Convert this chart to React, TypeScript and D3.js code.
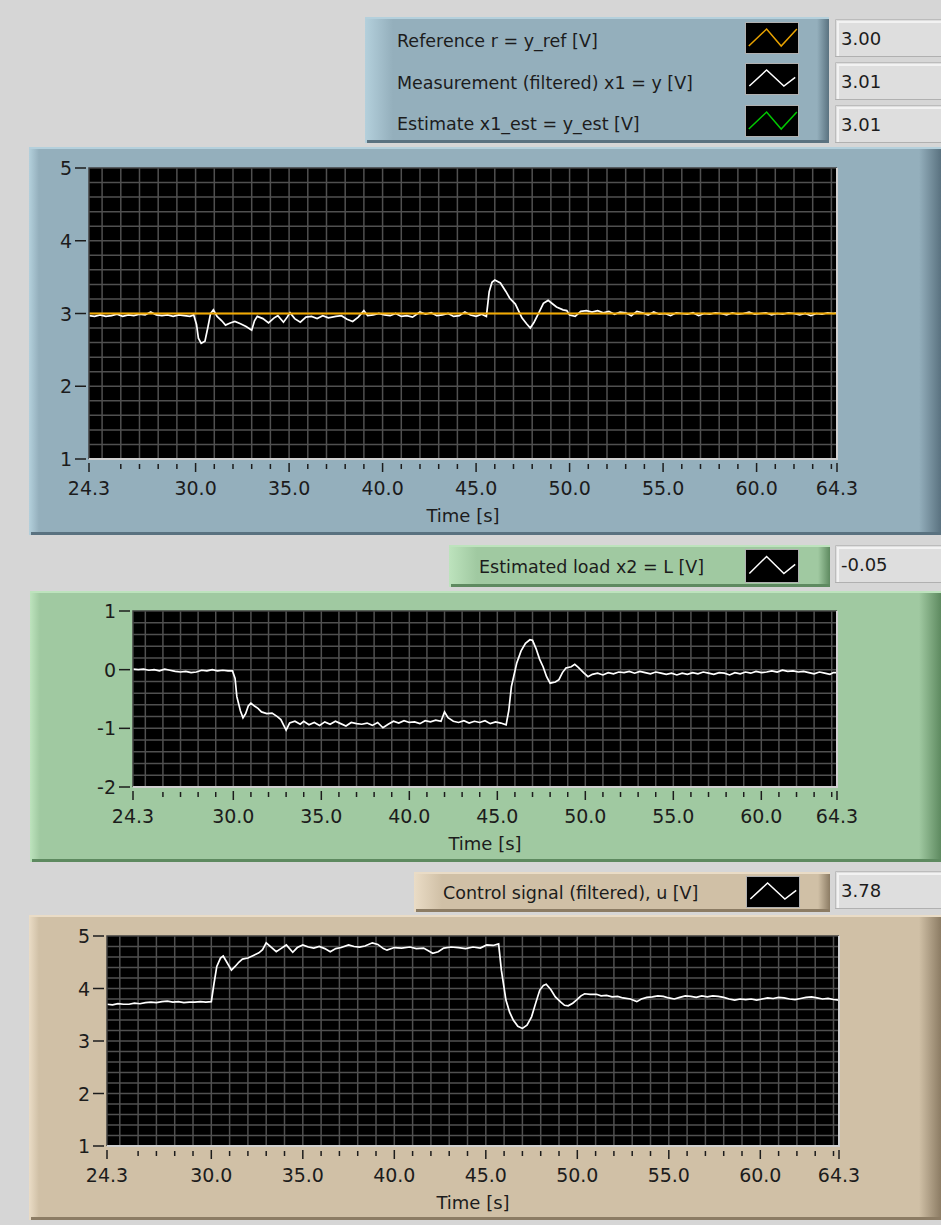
import * as d3 from "d3";

// time axis, seconds
const timeMajor = [24.3, 30, 35, 40, 45, 50, 55, 60, 64.3];
const timeMajorLabels = ["24.3", "30.0", "35.0", "40.0", "45.0", "50.0", "55.0", "60.0", "64.3"];

// plot 1: reference and measurement [V]
const refT = [24.3, 64.3];
const refV = [3.0, 3.0];

const measT = [
  24.3, 24.6, 24.9, 25.2, 25.5, 25.8, 26.1, 26.4, 26.7, 27.0, 27.3, 27.6, 27.9, 28.2, 28.5, 28.8, 29.1, 29.4, 29.7, 29.9,
  30.05, 30.15, 30.3, 30.5, 30.65, 30.8, 30.95, 31.15, 31.4, 31.6, 31.85, 32.1, 32.4, 32.7, 33.0, 33.15, 33.3, 33.6, 33.9,
  34.2, 34.4, 34.7, 34.9, 35.05, 35.3, 35.6, 35.9, 36.2, 36.5, 36.8, 37.1, 37.5, 37.8, 38.1, 38.4, 38.7, 39.0, 39.2, 39.5,
  39.8, 40.1, 40.4, 40.7, 41.0, 41.3, 41.6, 42.0, 42.3, 42.6, 42.9, 43.2, 43.5, 43.8, 44.1, 44.4, 44.7, 45.0, 45.3, 45.55,
  45.7, 45.85, 46.0, 46.3, 46.6, 46.8, 47.1, 47.45, 47.7, 47.9, 48.1, 48.3, 48.6, 48.85, 49.1, 49.3, 49.65, 49.85, 50.0,
  50.3, 50.6, 50.9, 51.2, 51.5, 51.8, 52.1, 52.4, 52.7, 53.0, 53.3, 53.6, 53.9, 54.2, 54.5, 54.8, 55.1, 55.4, 55.7, 56.0,
  56.3, 56.6, 56.9, 57.2, 57.5, 57.8, 58.1, 58.4, 58.7, 59.0, 59.3, 59.6, 59.9, 60.2, 60.5, 60.8, 61.1, 61.4, 61.7, 62.0,
  62.3, 62.6, 62.9, 63.2, 63.5, 63.8, 64.1, 64.3,
];
const measV = [
  2.97, 2.96, 2.98, 2.96, 2.97, 2.99, 2.96, 2.98, 2.97, 2.99, 2.98, 3.02, 2.98, 2.97, 2.98, 2.96, 2.98, 2.97, 2.96, 2.98,
  2.85, 2.66, 2.59, 2.62, 2.8, 3.0, 3.05, 2.96, 2.9, 2.84, 2.87, 2.89, 2.86, 2.82, 2.77, 2.9, 2.96, 2.93, 2.87,
  2.94, 2.97, 2.88, 2.95, 3.01, 2.93, 2.88, 2.95, 2.96, 2.93, 2.97, 2.94, 2.96, 2.97, 2.92, 2.89, 2.95, 3.04, 2.97, 2.98,
  3.0, 2.98, 2.97, 3.0, 2.96, 2.97, 2.95, 3.02, 2.99, 3.01, 2.97, 2.98, 3.0, 2.96, 2.97, 3.02, 2.98, 2.96, 2.99, 2.96,
  3.3, 3.43, 3.46, 3.42, 3.3, 3.21, 3.13, 2.94, 2.86, 2.8, 2.88, 2.98, 3.14, 3.18, 3.13, 3.09, 3.05, 3.04, 2.98,
  2.96, 3.03, 3.04, 3.02, 3.04, 3.01, 3.03, 2.99, 3.02, 3.01, 2.97, 3.03, 3.01, 2.98, 3.02, 2.99, 3.0, 2.97, 3.01, 3.0,
  2.99, 3.01, 2.97, 3.0, 2.99, 3.01, 3.0, 2.98, 3.01, 2.99, 3.0, 3.02, 2.99, 3.0, 3.01, 2.98, 3.0, 2.99, 3.01, 3.0,
  2.98, 3.0, 2.97, 3.0, 2.99, 3.01, 3.0, 3.01,
];

// plot 2: estimated load [V]
const loadT = [
  24.3, 24.6, 24.9, 25.2, 25.5, 25.8, 26.1, 26.4, 26.7, 27.0, 27.3, 27.6, 27.9, 28.2, 28.5, 28.8, 29.1, 29.4, 29.7, 29.95,
  30.1, 30.2, 30.4, 30.55, 30.7, 30.85, 31.0, 31.2, 31.4, 31.6, 31.9, 32.2, 32.5, 32.7, 33.0, 33.2, 33.5, 33.8, 34.0,
  34.3, 34.6, 34.9, 35.2, 35.5, 35.8, 36.1, 36.4, 36.7, 37.0, 37.3, 37.6, 37.9, 38.2, 38.5, 38.8, 39.1, 39.4, 39.7, 40.0,
  40.3, 40.6, 40.9, 41.2, 41.5, 41.8, 42.0, 42.2, 42.5, 42.8, 43.1, 43.4, 43.7, 44.0, 44.3, 44.6, 44.9, 45.2, 45.5,
  45.65, 45.8, 46.1, 46.35, 46.6, 46.85, 47.0, 47.2, 47.4, 47.6, 47.8, 48.0, 48.3, 48.5, 48.7, 48.9, 49.2, 49.4, 49.6,
  49.9, 50.15, 50.4, 50.7, 51.0, 51.3, 51.6, 51.9, 52.2, 52.5, 52.8, 53.1, 53.4, 53.7, 54.0, 54.3, 54.6, 54.9, 55.2,
  55.5, 55.8, 56.1, 56.4, 56.7, 57.0, 57.3, 57.6, 57.9, 58.2, 58.5, 58.8, 59.1, 59.4, 59.7, 60.0, 60.3, 60.6, 60.9,
  61.2, 61.5, 61.8, 62.1, 62.4, 62.7, 63.0, 63.3, 63.6, 63.9, 64.1, 64.3,
];
const loadV = [
  0.01, 0.0, 0.01, -0.01, 0.0, -0.02, 0.01, -0.01, -0.03, -0.04, -0.03, -0.05, -0.04, -0.01, -0.02, 0.0, -0.02, -0.01, -0.02, -0.02,
  -0.15, -0.46, -0.7, -0.82, -0.75, -0.62, -0.57, -0.62, -0.66, -0.72, -0.75, -0.74, -0.8, -0.85, -1.03, -0.91, -0.88, -0.93, -0.88,
  -0.94, -0.9, -0.95, -0.89, -0.93, -0.88, -0.92, -0.96, -0.9, -0.92, -0.93, -0.91, -0.95, -0.9, -0.99, -0.93, -0.88, -0.91, -0.87, -0.9,
  -0.89, -0.92, -0.87, -0.89, -0.86, -0.88, -0.72, -0.82, -0.88, -0.9, -0.87, -0.91, -0.88, -0.9, -0.87, -0.92, -0.89, -0.91, -0.94,
  -0.7, -0.29, 0.11, 0.32, 0.45, 0.51, 0.5, 0.36, 0.18, 0.05, -0.12, -0.23, -0.21, -0.17, -0.05, 0.03, 0.05, 0.09, 0.04,
  -0.05, -0.12, -0.08, -0.06, -0.09, -0.05, -0.07, -0.04, -0.05, -0.03, -0.06, -0.03, -0.05, -0.07, -0.04, -0.06, -0.08, -0.06, -0.09,
  -0.06, -0.08, -0.05, -0.07, -0.04, -0.06, -0.08, -0.05, -0.06, -0.09, -0.05, -0.07, -0.04, -0.06, -0.03, -0.05, -0.04, -0.02, -0.04,
  -0.01, -0.03, -0.02, -0.04, -0.03, -0.05, -0.07, -0.04, -0.06, -0.08, -0.05, -0.05,
];

// plot 3: control signal u [V]
const uT = [
  24.3, 24.6, 24.9, 25.2, 25.5, 25.8, 26.1, 26.4, 26.7, 27.0, 27.3, 27.6, 27.9, 28.2, 28.5, 28.8, 29.1, 29.4, 29.7, 30.0,
  30.15, 30.3, 30.5, 30.65, 30.85, 31.1, 31.3, 31.5, 31.7, 32.0, 32.3, 32.6, 32.8, 33.0, 33.3, 33.55, 33.8, 34.1, 34.45,
  34.7, 35.0, 35.3, 35.6, 35.9, 36.2, 36.5, 36.8, 37.1, 37.5, 37.8, 38.1, 38.4, 38.8, 39.1, 39.4, 39.6, 40.0, 40.4, 40.85,
  41.2, 41.6, 42.1, 42.4, 42.7, 43.1, 43.5, 43.9, 44.3, 44.7, 45.05, 45.4, 45.7, 45.85, 46.1, 46.3, 46.5, 46.75, 47.0,
  47.25, 47.5, 47.75, 47.95, 48.15, 48.3, 48.55, 48.8, 49.1, 49.3, 49.5, 49.75, 49.95, 50.2, 50.4, 50.7, 51.05, 51.3,
  51.6, 51.9, 52.2, 52.5, 52.9, 53.25, 53.5, 53.8, 54.1, 54.4, 54.7, 55.0, 55.3, 55.6, 55.9, 56.2, 56.5, 56.8, 57.1,
  57.4, 57.7, 58.0, 58.3, 58.6, 58.9, 59.2, 59.5, 59.8, 60.1, 60.4, 60.7, 61.0, 61.3, 61.6, 61.9, 62.2, 62.5, 62.8,
  63.1, 63.4, 63.7, 64.0, 64.3,
];
const uV = [
  3.7, 3.69, 3.71, 3.7, 3.7, 3.72, 3.71, 3.73, 3.74, 3.73, 3.75, 3.76, 3.74, 3.75, 3.73, 3.74, 3.74, 3.75, 3.74, 3.75,
  4.1, 4.42, 4.58, 4.62, 4.5, 4.35, 4.42, 4.5, 4.56, 4.58, 4.63, 4.68, 4.74, 4.87, 4.78, 4.7, 4.76, 4.83, 4.69,
  4.78, 4.83, 4.79, 4.77, 4.8, 4.76, 4.7, 4.76, 4.78, 4.83, 4.8, 4.79, 4.81, 4.87, 4.84, 4.76, 4.73, 4.78, 4.77, 4.79,
  4.76, 4.77, 4.67, 4.7, 4.77, 4.79, 4.78, 4.76, 4.79, 4.77, 4.83, 4.82, 4.85, 4.35, 3.78, 3.55, 3.4, 3.28, 3.24,
  3.3, 3.46, 3.75, 3.97, 4.06, 4.08, 3.98, 3.84, 3.74, 3.68, 3.67, 3.72, 3.78, 3.86, 3.9, 3.89, 3.89, 3.86,
  3.87, 3.84, 3.85, 3.82, 3.8, 3.75, 3.8, 3.83, 3.84, 3.86, 3.85, 3.82, 3.8, 3.83, 3.86, 3.85, 3.83, 3.86, 3.84,
  3.86, 3.85, 3.83, 3.8, 3.78, 3.8, 3.79, 3.8, 3.78, 3.8, 3.82, 3.81, 3.83, 3.82, 3.8, 3.79, 3.81, 3.83, 3.84,
  3.82, 3.8, 3.81, 3.79, 3.78,
];

const legend1Labels = ["Reference r = y_ref [V]", "Measurement (filtered) x1 = y [V]", "Estimate x1_est = y_est [V]"];
const legend1Values = ["3.00", "3.01", "3.01"];
const legend1Colors = ["#e8a200", "#ffffff", "#00c800"];
const legend2Label = "Estimated load x2 = L [V]";
const legend2Value = "-0.05";
const legend3Label = "Control signal (filtered), u [V]";
const legend3Value = "3.78";

const FONT = "DejaVu Sans, Verdana, sans-serif";
const INK = "#1c1c1c";
const LEG_SIZE = 17.5;

function Bevel({ id, x, y, w, h, base, light, dark, left = 10, right = 22 }) {
  return (
    <g>
      <defs>
        <linearGradient id={id + "L"} x1="0" x2="1" y1="0" y2="0">
          <stop offset="0" stopColor={light} />
          <stop offset="1" stopColor={base} />
        </linearGradient>
        <linearGradient id={id + "R"} x1="0" x2="1" y1="0" y2="0">
          <stop offset="0" stopColor={base} />
          <stop offset="1" stopColor={dark} />
        </linearGradient>
      </defs>
      <rect x={x} y={y} width={w} height={h} fill={base} />
      <rect x={x} y={y} width={left} height={h} fill={`url(#${id}L)`} />
      <rect x={x + w - right} y={y} width={right} height={h} fill={`url(#${id}R)`} />
      <line x1={x} x2={x + w} y1={y + 1} y2={y + 1} stroke={light} strokeWidth={2} />
      <line x1={x + 2} x2={x + w} y1={y + h - 1.5} y2={y + h - 1.5} stroke={dark} strokeWidth={3} />
    </g>
  );
}

function ValueBox({ x, y, w, h, text }) {
  return (
    <g>
      <rect x={x} y={y} width={w} height={h} fill="#dedede" />
      <path d={`M${x + 0.5},${y + h} V${y + 0.5} H${x + w}`} fill="none" stroke="#bcbcbc" strokeWidth={1} />
      <path d={`M${x + 3},${y + h - 1} V${y + 3} H${x + w}`} fill="none" stroke="#f2f2f2" strokeWidth={2} />
      <line x1={x} x2={x + w} y1={y + h - 0.5} y2={y + h - 0.5} stroke="#b0b0b0" />
      <text x={x + 6} y={y + h / 2 + 7} fontSize={18} fontFamily={FONT} fill={INK}>
        {text}
      </text>
    </g>
  );
}

function Swatch({ x, y, w, h, color, shape }) {
  const pts = shape.map(([fx, fy]) => `${x + fx * w},${y + fy * h}`).join(" ");
  return (
    <g>
      <rect x={x + 0.5} y={y + 0.5} width={w - 1} height={h - 1} fill="#000" stroke="#b0b0b0" />
      <polyline points={pts} fill="none" stroke={color} strokeWidth={1.5} />
    </g>
  );
}

const zigA = [[0.07, 0.75], [0.4, 0.22], [0.67, 0.75], [0.96, 0.22]];
const zigB = [[0.08, 0.72], [0.4, 0.22], [0.72, 0.72], [0.93, 0.45]];

function Chart({ left, top, right, bottom, yMin, yMax, yTicks, yTickLabels, lines }) {
  const x = d3.scaleLinear().domain([24.3, 64.3]).range([left, right]);
  const y = d3.scaleLinear().domain([yMin, yMax]).range([bottom, top]);
  const gridX = d3.range(25, 65);
  const gridY = d3.range(Math.round(yMin * 5) + 1, Math.round(yMax * 5)).map((k) => k / 5);
  const minor = gridX.filter((t) => t % 5 !== 0);
  const path = d3
    .line<number>()
    .x((d) => x(d[0]))
    .y((d) => y(d[1]));

  return (
    <g>
      <rect x={left} y={top} width={right - left} height={bottom - top} fill="#000" />
      {gridX.map((t) => (
        <line key={"gx" + t} x1={x(t)} x2={x(t)} y1={top} y2={bottom} stroke="#505050" strokeWidth={1.5} />
      ))}
      {gridY.map((v) => (
        <line key={"gy" + v} x1={left} x2={right} y1={y(v)} y2={y(v)} stroke="#505050" strokeWidth={1.5} />
      ))}
      <clipPath id={"clip" + top}>
        <rect x={left} y={top} width={right - left} height={bottom - top} />
      </clipPath>
      <g clipPath={`url(#clip${top})`}>
        {lines.map((l, i) => (
          <path
            key={i}
            d={path(l.t.map((t, j) => [t, l.v[j]]))}
            fill="none"
            stroke={l.color}
            strokeWidth={l.width}
            strokeLinejoin="miter"
          />
        ))}
      </g>
      <path d={`M${left},${bottom} V${top} H${right}`} fill="none" stroke="#404040" strokeWidth={1.5} />
      <path d={`M${left},${bottom} H${right} V${top}`} fill="none" stroke="#cfcfcf" strokeWidth={2} />

      {yTicks.map((v, i) => (
        <g key={"yt" + v}>
          <line x1={left - 14} x2={left - 3} y1={y(v)} y2={y(v)} stroke={INK} strokeWidth={1.5} />
          <text x={left - 17} y={y(v) + 7} textAnchor="end" fontSize={19} fontFamily={FONT} fill={INK}>
            {yTickLabels[i]}
          </text>
        </g>
      ))}
      {minor.map((t) => (
        <line key={"mx" + t} x1={x(t)} x2={x(t)} y1={bottom + 5} y2={bottom + 10} stroke={INK} strokeWidth={1.5} />
      ))}
      {timeMajor.map((t, i) => (
        <g key={"xt" + t}>
          <line x1={x(t)} x2={x(t)} y1={bottom + 4} y2={bottom + 13} stroke={INK} strokeWidth={1.5} />
          <text x={x(t)} y={bottom + 36} textAnchor="middle" fontSize={19} fontFamily={FONT} fill={INK}>
            {timeMajorLabels[i]}
          </text>
        </g>
      ))}
      <text x={(left + right) / 2} y={bottom + 63} textAnchor="middle" fontSize={18} fontFamily={FONT} fill={INK}>
        Time [s]
      </text>
    </g>
  );
}

export default function App() {
  const blue = { base: "#94afbc", light: "#b4d0dc", dark: "#5a7280" };
  const green = { base: "#a0c9a1", light: "#bde3bd", dark: "#5e8a60" };
  const tan = { base: "#d0c0a6", light: "#eadcc6", dark: "#8c7c64" };

  return (
    <div>
      <style>{`body{margin:0}`}</style>
      <svg width={941} height={1225} style={{ display: "block" }}>
        <rect x={0} y={0} width={941} height={1225} fill="#d6d6d6" />

        {/* top legend */}
        <Bevel id="lg1" x={365} y={17} w={464} h={126} {...blue} left={28} right={12} />
        {legend1Labels.map((lab, i) => {
          const cy = [40, 82, 123][i];
          const sy = [22, 63, 105][i];
          const vy = [19, 62, 105][i];
          return (
            <g key={lab}>
              <text x={397} y={cy + 6.5} fontSize={LEG_SIZE} fontFamily={FONT} fill={INK}>
                {lab}
              </text>
              <Swatch x={745} y={sy} w={54} h={32} color={legend1Colors[i]} shape={i === 1 ? zigB : zigA} />
              <ValueBox x={835} y={vy} w={106} h={38} text={legend1Values[i]} />
            </g>
          );
        })}

        <Bevel id="p1" x={29} y={147} w={912} h={388} {...blue} />
        <Chart
          left={89}
          top={168}
          right={837}
          bottom={459}
          yMin={1}
          yMax={5}
          yTicks={[1, 2, 3, 4, 5]}
          yTickLabels={["1", "2", "3", "4", "5"]}
          lines={[
            { t: measT, v: measV, color: "#ffffff", width: 1.7 },
            { t: refT, v: refV, color: "#f2a900", width: 2 },
          ]}
        />

        {/* load legend */}
        <Bevel id="lg2" x={449} y={545} w={381} h={42} {...green} left={28} right={12} />
        <text x={479} y={566 + 6.5} fontSize={LEG_SIZE} fontFamily={FONT} fill={INK}>
          {legend2Label}
        </text>
        <Swatch x={745} y={549} w={54} h={34} color="#ffffff" shape={zigB} />
        <ValueBox x={835} y={545} w={106} h={38} text={legend2Value} />

        <Bevel id="p2" x={30} y={591} w={911} h={271} {...green} />
        <Chart
          left={133}
          top={611}
          right={837}
          bottom={787}
          yMin={-2}
          yMax={1}
          yTicks={[-2, -1, 0, 1]}
          yTickLabels={["-2", "-1", "0", "1"]}
          lines={[{ t: loadT, v: loadV, color: "#ffffff", width: 1.7 }]}
        />

        {/* control legend */}
        <Bevel id="lg3" x={414} y={872} w={416} h={40} {...tan} left={28} right={12} />
        <text x={443} y={892 + 6.5} fontSize={LEG_SIZE} fontFamily={FONT} fill={INK}>
          {legend3Label}
        </text>
        <Swatch x={746} y={876} w={54} h={32} color="#ffffff" shape={zigB} />
        <ValueBox x={835} y={871} w={106} h={38} text={legend3Value} />

        <Bevel id="p3" x={29} y={915} w={912} h={305} {...tan} />
        <Chart
          left={107}
          top={936}
          right={839}
          bottom={1146}
          yMin={1}
          yMax={5}
          yTicks={[1, 2, 3, 4, 5]}
          yTickLabels={["1", "2", "3", "4", "5"]}
          lines={[{ t: uT, v: uV, color: "#ffffff", width: 1.7 }]}
        />
      </svg>
    </div>
  );
}
